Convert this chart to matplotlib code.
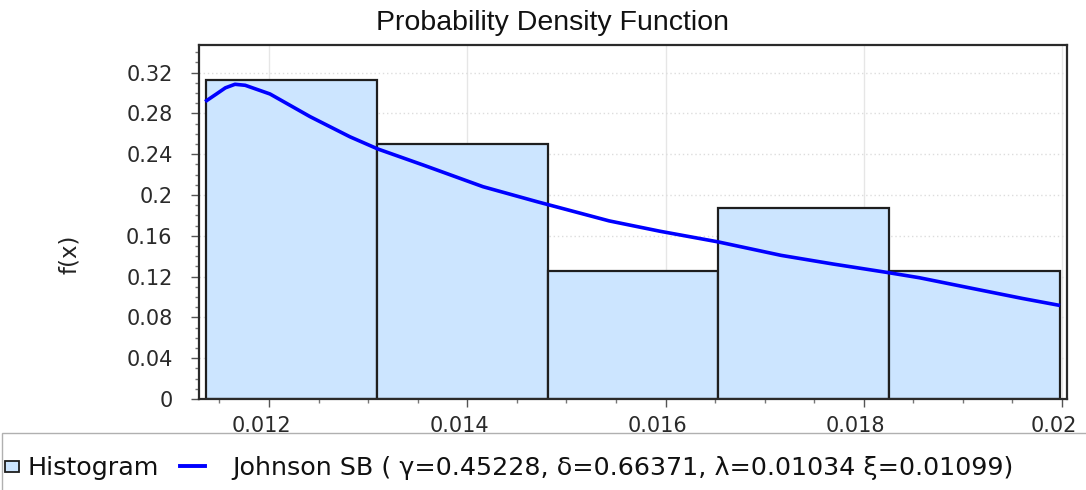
import matplotlib
matplotlib.use("Agg")
import matplotlib.pyplot as plt
from matplotlib.patches import Rectangle
from matplotlib.lines import Line2D
from matplotlib.ticker import MultipleLocator, FuncFormatter
from matplotlib.transforms import ScaledTranslation
import numpy as np

# histogram: bin edges and relative frequencies
bin_edges = [0.011364, 0.013087, 0.014810, 0.016533, 0.018256, 0.019980]
bin_heights = [0.3125, 0.25, 0.125, 0.1875, 0.125]

# fitted Johnson SB curve
curve_x = [0.011371, 0.011470, 0.011560, 0.011657, 0.011760, 0.012010,
           0.012414, 0.012817, 0.013100, 0.013554, 0.014159, 0.014704,
           0.015431, 0.015946, 0.016531, 0.017166, 0.017691, 0.018246,
           0.018559, 0.019074, 0.019598, 0.019962]
curve_y = [0.2925, 0.2990, 0.3050, 0.3085, 0.3075, 0.2990,
           0.2768, 0.2570, 0.2450, 0.2294, 0.2081, 0.1934,
           0.1746, 0.1644, 0.1540, 0.1408, 0.1323, 0.1239,
           0.1189, 0.1088, 0.0986, 0.0920]

title = "Probability Density Function"
legend_hist = "Histogram"
legend_fit = "Johnson SB ( \u03b3=0.45228, \u03b4=0.66371, \u03bb=0.01034 \u03be=0.01099)"

plt.rcParams['font.family'] = ["DejaVu Sans"]

W, H = 1086, 490
fig = plt.figure(figsize=(W / 100, H / 100), dpi=100)
ax = fig.add_axes([199 / W, 1 - 399 / H, 868 / W, 354 / H])

widths = np.diff(bin_edges)
ax.bar(bin_edges[:-1], bin_heights, width=widths, align='edge',
       color='#cce5ff', edgecolor='#1e1e1e', linewidth=1.6, zorder=2)
ax.plot(curve_x, curve_y, color='#0000ff', linewidth=2.6, zorder=3)

ax.set_xlim(0.011294, 0.02005)
ax.set_ylim(0, 0.347)

ax.xaxis.set_major_locator(MultipleLocator(0.002))
ax.xaxis.set_minor_locator(MultipleLocator(0.0005))
ax.yaxis.set_major_locator(MultipleLocator(0.04))
ax.yaxis.set_minor_locator(MultipleLocator(0.01))
ax.xaxis.set_major_formatter(FuncFormatter(lambda v, p: ('%.3f' % v).rstrip('0')))
ax.yaxis.set_major_formatter(FuncFormatter(
    lambda v, p: '0' if abs(v) < 1e-9 else ('%.2f' % v).rstrip('0')))

ax.tick_params(axis='both', which='major', length=6, width=1, color='#555555',
               labelsize=15, labelcolor='#2a2a2a')
ax.tick_params(axis='both', which='minor', length=3, width=1, color='#777777')
ax.tick_params(axis='x', pad=6)
ax.tick_params(axis='y', pad=13)

# x tick labels sit a little left of their ticks in the original
shift = ScaledTranslation(-8 / 100, 0, fig.dpi_scale_trans)
for lab in ax.get_xticklabels():
    lab.set_transform(lab.get_transform() + shift)

ax.grid(True, axis='x', which='major', color='#e6e6e6', linewidth=1, zorder=0)
ax.grid(True, axis='y', which='major', color='#dddddd', linewidth=1,
        linestyle=(0, (1, 2)), zorder=0)
ax.set_axisbelow(True)

for s in ax.spines.values():
    s.set_color('#2a2a2a')
    s.set_linewidth(1.6)

fig.text(552 / W, 1 - 23 / H, title, fontsize=20.5, color='#111111',
         ha='center', va='center', family=["Liberation Sans", "DejaVu Sans"])
ax.set_ylabel("f(x)", fontsize=16.5, color='#222222')
ax.yaxis.set_label_coords(-0.136, 0.41)
ax.set_xlabel("x", fontsize=15, color='#222222')
ax.xaxis.set_label_coords(0.49, -0.108)

# legend area below the plot
fig.patches.append(Rectangle((1.5 / W, -0.01), 1.2, 1 - 433 / H + 0.01,
                             transform=fig.transFigure, facecolor='white',
                             edgecolor='#b0b0b0', linewidth=1, zorder=0))
ly = 1 - 468 / H
fig.patches.append(Rectangle((5 / W, 1 - 472 / H), 14 / W, 11 / H,
                             transform=fig.transFigure, facecolor='#cce5ff',
                             edgecolor='#1e1e1e', linewidth=1.3, zorder=2))
fig.text(27 / W, ly, legend_hist, fontsize=18.3, color='#111111', va='center')
fig.lines.append(Line2D([180 / W, 205 / W], [1 - 466 / H, 1 - 466 / H],
                        transform=fig.transFigure, color='#0000ff', linewidth=2.8))
fig.text(232 / W, ly, legend_fit, fontsize=18.3, color='#111111', va='center')

fig.savefig("out.png", dpi=100)
